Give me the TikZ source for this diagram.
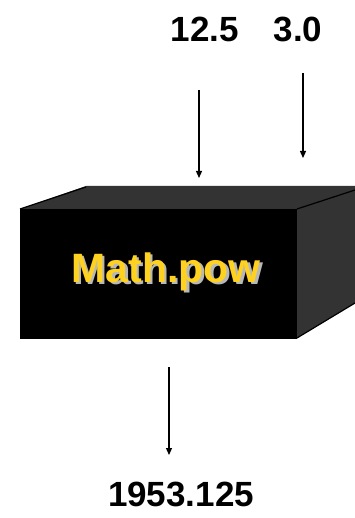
\documentclass[tikz,border=0pt]{standalone}
\usepackage{fontspec}
\setmainfont{Liberation Sans}
\usepackage{xcolor}
\usetikzlibrary{arrows.meta, positioning}
\definecolor{cside}{HTML}{333333}
\definecolor{cgold}{HTML}{FFD21F}
\definecolor{cglow}{HTML}{B8B8B8}

\newcommand{\glowtext}[1]{%
    \makebox[0pt][l]{\hspace{2.5pt}\raisebox{-2.5pt}{\textcolor{cglow}{#1}}}%
    \textcolor{cgold}{#1}}

\begin{document}
\begin{tikzpicture}[
    x=1pt, y=-1pt,
    >={Triangle[length=7pt, width=6pt]},
    value/.style={
        font=\fontsize{35}{40}\selectfont\bfseries, inner sep=0pt
    },
    fname/.style={
        font=\fontsize{41}{46}\selectfont\bfseries, inner sep=0pt
    },
    face/.style={fill=cside, draw=none},
    edge/.style={draw=black, line width=1.2pt},
    flow/.style={->, line width=1.2pt, draw=black},
]
\useasboundingbox (0,0) rectangle (355,518);

% --- Box ---------------------------------------------------------------------
\fill[face] (20,209) -- (86,186) -- (355,186) -- (355,190) -- (297,209) -- cycle;
\fill[face] (297,209) -- (355,190) -- (355,303) -- (297,338) -- cycle;
\fill[black] (20,209) rectangle (297,339);
\draw[edge] (20,209) -- (86,187);
\draw[edge] (297,209) -- (355,190);
\draw[edge] (297,338) -- (355,303);

% --- Function name -------------------------------------------------------------
\node[fname] (fn) at (166,273) {\glowtext{Math.pow}};

% --- Inputs --------------------------------------------------------------------
\node[value] (base) at (205,29) {12.5};
\node[value] (expo) at (298,29) {3.0};

\coordinate (base in) at (199,90);
\coordinate (base to) at (199,178);
\coordinate (expo in) at (303,73);
\coordinate (expo to) at (303,158);
\draw[flow] (base in) -- (base to);
\draw[flow] (expo in) -- (expo to);

% --- Output --------------------------------------------------------------------
\node[value] (res) at (181,494) {1953.125};

\coordinate (res out) at (169,367);
\coordinate (res to) at (169,455);
\draw[flow] (res out) -- (res to);

\end{tikzpicture}
\end{document}
